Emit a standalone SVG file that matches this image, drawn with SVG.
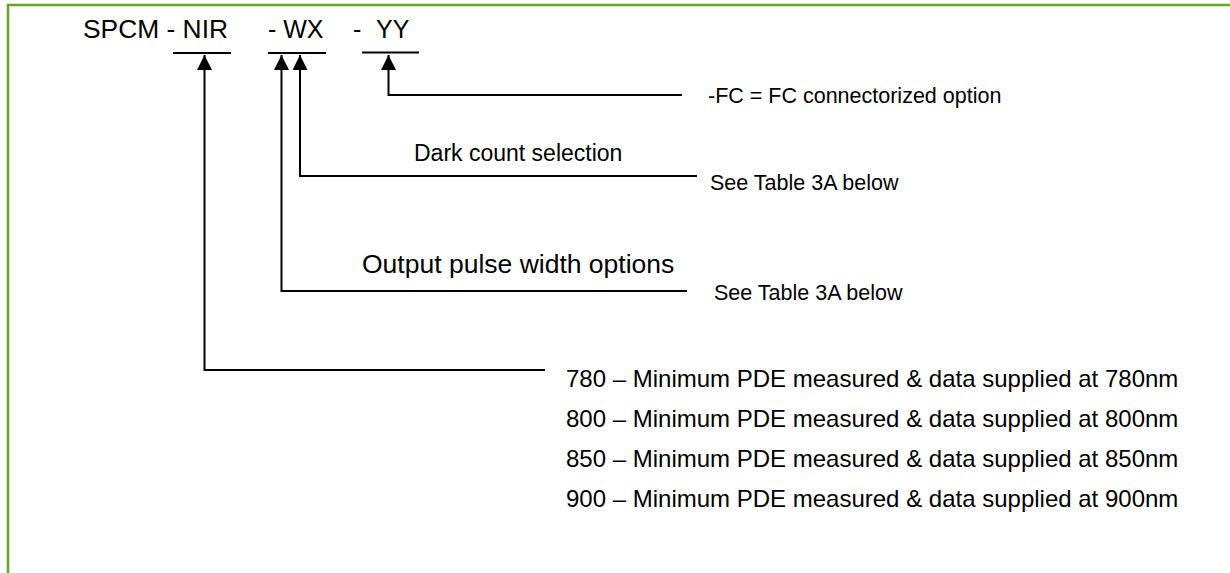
<svg xmlns="http://www.w3.org/2000/svg" width="1230" height="573" viewBox="0 0 1230 573">
<style>
.t{font-family:"Liberation Sans",Arial,sans-serif;fill:#000}
.ln{stroke:#000;stroke-width:2;fill:none}
.bar{stroke:#000;stroke-width:2}
.frame{stroke:#66A61E;stroke-width:2.5;fill:none}
</style>
<defs>
<marker id="ah" viewBox="0 0 10 10" refX="10" refY="5" markerWidth="15" markerHeight="15" markerUnits="userSpaceOnUse" orient="auto">
<path d="M0,0 L10,5 L0,10 z" fill="#000"/>
</marker>
</defs>
<rect width="1230" height="573" fill="#fff"/>
<path class="frame" d="M8,573 L8,5 L1230,5"/>
<g id="code">
<text class="t" x="83" y="38" font-size="25" textLength="145" lengthAdjust="spacingAndGlyphs">SPCM - NIR</text>
<text class="t" x="268" y="38" font-size="25">- WX</text>
<text class="t" x="353" y="38" font-size="25">-</text>
<text class="t" x="376" y="38" font-size="25">YY</text>
<line class="bar" x1="173" y1="53" x2="231" y2="53"/>
<line class="bar" x1="268" y1="53" x2="326" y2="53"/>
<line class="bar" x1="362" y1="52.5" x2="419" y2="52.5" stroke-width="2.5"/>
</g>
<g id="connectors">
<path class="ln" d="M682,95 L388.5,95 L388.5,55" marker-end="url(#ah)"/>
<path class="ln" d="M697,176 L300,176 L300,55" marker-end="url(#ah)"/>
<path class="ln" d="M687,291 L281.5,291 L281.5,55" marker-end="url(#ah)"/>
<path class="ln" d="M545,370 L204.5,370 L204.5,55" marker-end="url(#ah)"/>
</g>
<g id="fc">
<text class="t" x="708" y="103" font-size="21.5">-FC = FC connectorized option</text>
</g>
<g id="dark">
<text class="t" x="414" y="161" font-size="23">Dark count selection</text>
<text class="t" x="710" y="190" font-size="21.5">See Table 3A below</text>
</g>
<g id="pulse">
<text class="t" x="362" y="273" font-size="26.5">Output pulse width options</text>
<text class="t" x="714" y="300" font-size="21.5">See Table 3A below</text>
</g>
<g id="pde">
<text class="t" x="566" y="387" font-size="24">780 – Minimum PDE measured &amp; data supplied at 780nm</text>
<text class="t" x="566" y="427" font-size="24">800 – Minimum PDE measured &amp; data supplied at 800nm</text>
<text class="t" x="566" y="467" font-size="24">850 – Minimum PDE measured &amp; data supplied at 850nm</text>
<text class="t" x="566" y="507" font-size="24">900 – Minimum PDE measured &amp; data supplied at 900nm</text>
</g>
</svg>
